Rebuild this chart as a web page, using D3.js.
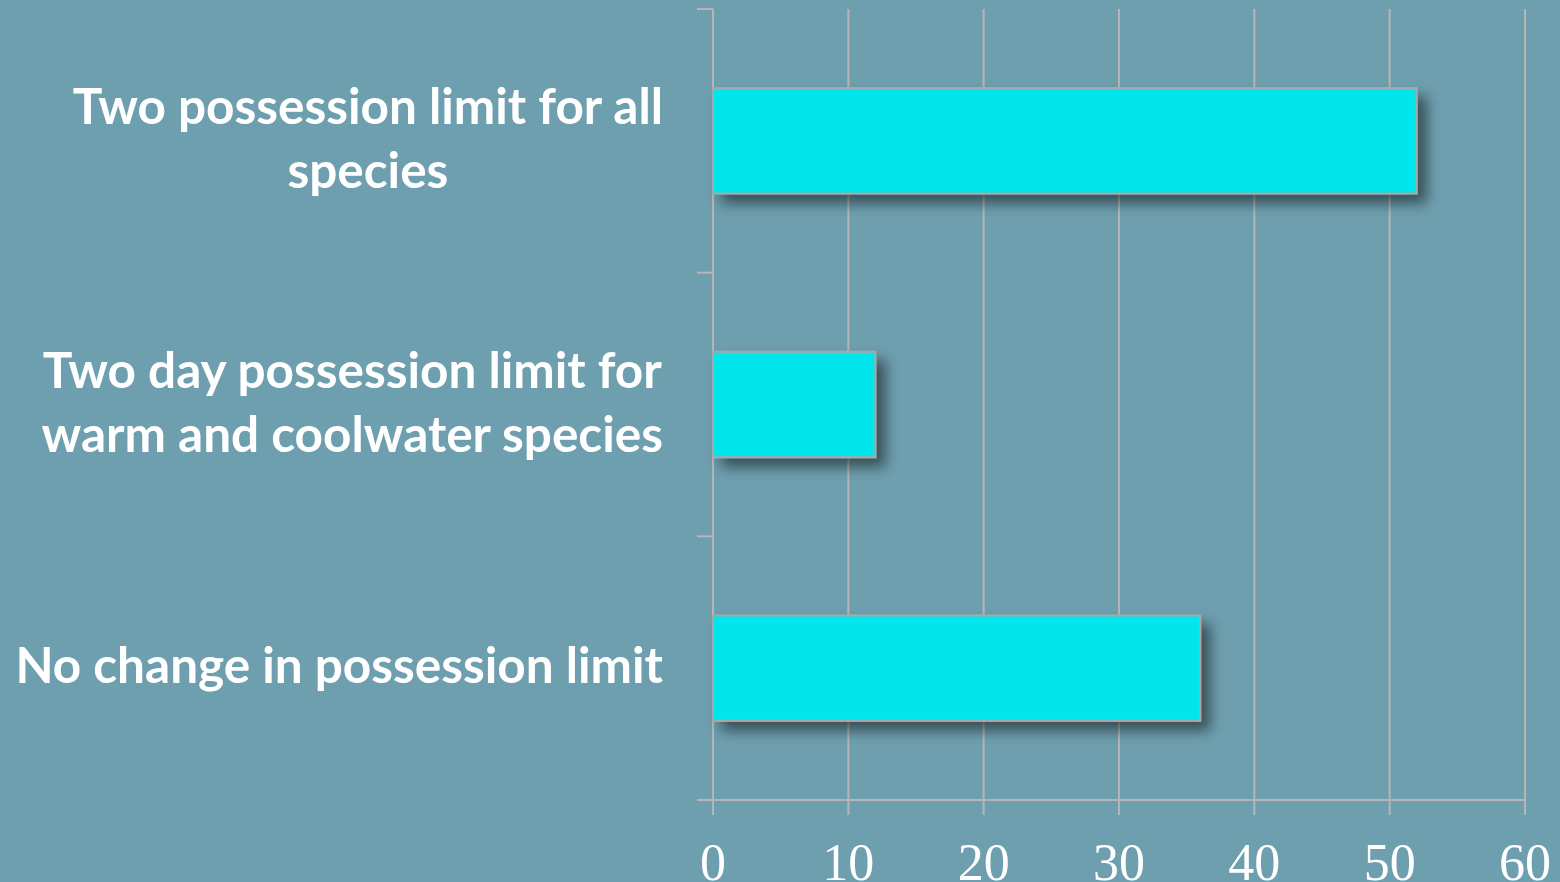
<!DOCTYPE html>
<html><head><meta charset="utf-8">
<script src="https://cdn.jsdelivr.net/npm/d3@7"></script>
<style>
html,body{margin:0;padding:0;background:#6e9faf;}
svg{display:block;}
</style></head>
<body>
<svg id="c" width="1560" height="882"></svg>
<script>
const categories = [
  ["Two possession limit for all", "species"],
  ["Two day possession limit for", "warm and coolwater species"],
  ["No change in possession limit"]
];
const values = [52, 12, 36];
const tickValues = [0, 10, 20, 30, 40, 50, 60];

(function () {
const svg = d3.select("#c");
const mL = 713, mR = 1525, mT = 9, mB = 800;
const keys = categories.map((c, i) => "c" + i);

const x = d3.scaleLinear().domain([0, 60]).range([mL, mR]);
const y = d3.scaleBand().domain(keys).range([mT, mB]).paddingInner(0.6).paddingOuter(0.3);

const defs = svg.append("defs");
const f = defs.append("filter").attr("id", "sh").attr("x", "-20%").attr("y", "-40%").attr("width", "150%").attr("height", "200%");
f.append("feGaussianBlur").attr("in", "SourceAlpha").attr("stdDeviation", 7);
f.append("feOffset").attr("dx", 9).attr("dy", 9).attr("result", "ob");
f.append("feComponentTransfer").append("feFuncA").attr("type", "linear").attr("slope", 0.5);
const m = f.append("feMerge");
m.append("feMergeNode");
m.append("feMergeNode").attr("in", "SourceGraphic");

const gridColor = "#b6b6b6";

svg.append("g").selectAll("line").data(tickValues.slice(1)).join("line")
  .attr("x1", d => x(d)).attr("x2", d => x(d))
  .attr("y1", mT).attr("y2", mB + 15)
  .attr("stroke", gridColor).attr("stroke-width", 2);

svg.append("line").attr("x1", mL).attr("x2", mR).attr("y1", mB).attr("y2", mB)
  .attr("stroke", gridColor).attr("stroke-width", 2);
svg.append("line").attr("x1", mL).attr("x2", mL).attr("y1", mT).attr("y2", mB + 15)
  .attr("stroke", gridColor).attr("stroke-width", 2);

const bounds = [mT].concat(keys.map(k => y(k) - y.step() * y.paddingInner() / 2 + y.step()));
svg.append("g").selectAll("line").data(bounds).join("line")
  .attr("x1", mL - 16).attr("x2", mL)
  .attr("y1", d => d).attr("y2", d => d)
  .attr("stroke", gridColor).attr("stroke-width", 2);

svg.append("g").selectAll("rect").data(values).join("rect")
  .attr("x", x(0)).attr("y", (d, i) => y(keys[i]))
  .attr("width", d => x(d) - x(0)).attr("height", y.bandwidth())
  .attr("fill", "#06e6ec").attr("stroke", "#a8a8a8").attr("stroke-width", 2)
  .attr("filter", "url(#sh)");

svg.append("g").selectAll("text").data(tickValues).join("text")
  .attr("x", d => x(d)).attr("y", 880)
  .attr("text-anchor", "middle")
  .attr("font-family", "'Liberation Serif', serif").attr("font-size", 52)
  .attr("fill", "#ffffff")
  .text(d => d);

const lg = svg.append("g");
categories.forEach((lines, i) => {
  const cy = y(keys[i]) + y.bandwidth() / 2;
  const lh = 64;
  const g = lg.append("g");
  const t = g.selectAll("text").data(lines).join("text")
    .attr("y", (d, j) => cy + 15 + (j - (lines.length - 1) / 2) * lh)
    .attr("text-anchor", "middle")
    .attr("font-family", "Lato, 'Open Sans', sans-serif").attr("font-weight", "bold")
    .attr("font-size", 49.5).attr("fill", "#ffffff")
    .text(d => d);
  let mw = 0;
  t.each(function () { mw = Math.max(mw, this.getComputedTextLength()); });
  t.attr("x", 663 - mw / 2);
});
})();
</script>
</body></html>
